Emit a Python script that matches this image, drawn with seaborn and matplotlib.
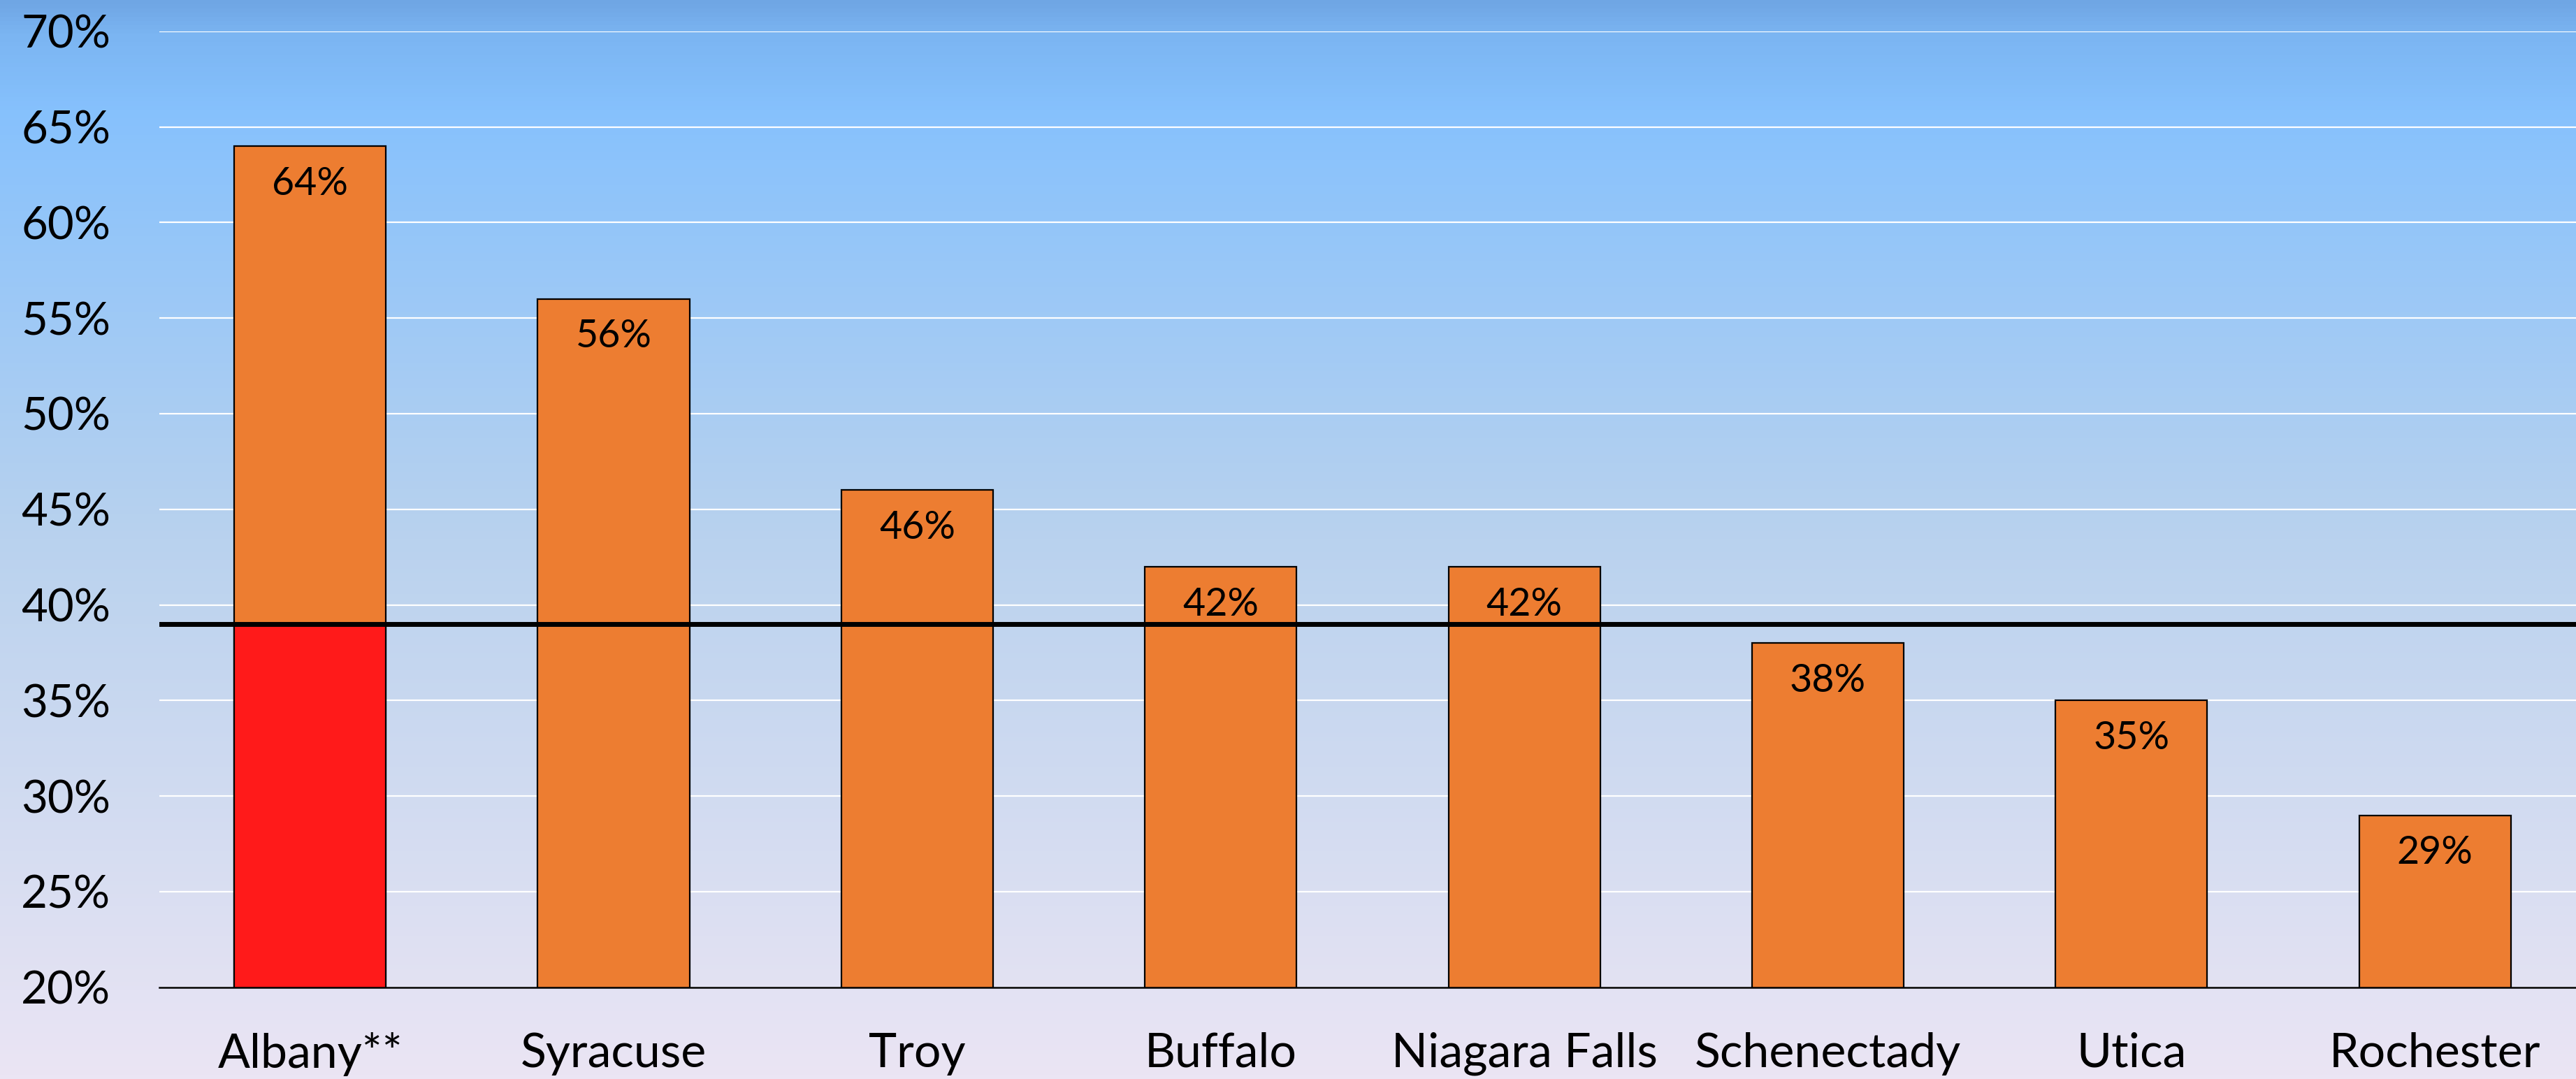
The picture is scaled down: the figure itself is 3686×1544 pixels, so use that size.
import numpy as np
import pandas as pd
import matplotlib
matplotlib.use("Agg")
import matplotlib.pyplot as plt
from matplotlib.colors import LinearSegmentedColormap
import seaborn as sns

cities = ["Albany**", "Syracuse", "Troy", "Buffalo", "Niagara Falls", "Schenectady", "Utica", "Rochester"]
values = [64, 56, 46, 42, 42, 38, 35, 29]
labels = ["64%", "56%", "46%", "42%", "42%", "38%", "35%", "29%"]
highlight_city = ["Albany**"]
highlight_value = [39]
reference_value = 39
yticks = [20, 25, 30, 35, 40, 45, 50, 55, 60, 65, 70]
ytick_labels = ["20%", "25%", "30%", "35%", "40%", "45%", "50%", "55%", "60%", "65%", "70%"]

sns.set_theme(style="white")
plt.rcParams["font.family"] = ["Lato", "DejaVu Sans"]

fig = plt.figure(figsize=(36.87, 15.44), dpi=100)

# gradient background
bg = fig.add_axes([0, 0, 1, 1], zorder=-10)
cmap = LinearSegmentedColormap.from_list(
    "bg", [(0.0, "#6fa6e4"), (0.03, "#7bb5f2"), (0.1, "#86c1fd"), (0.5, "#b9d2ee"), (1.0, "#ebe5f4")])
grad = np.linspace(0, 1, 512).reshape(-1, 1)
bg.imshow(grad, aspect="auto", cmap=cmap, extent=[0, 1, 0, 1], origin="upper")
bg.set_axis_off()

ax = fig.add_axes([0.0618, 0.085, 0.9382, 0.886])
ax.set_facecolor("none")

df = pd.DataFrame({"city": cities, "value": values})
hdf = pd.DataFrame({"city": highlight_city, "value": highlight_value})

sns.barplot(data=df, x="city", y="value", order=cities, color="#ed7d31", saturation=1,
            edgecolor="black", linewidth=1.6, width=0.5, ax=ax, zorder=3)
sns.barplot(data=hdf, x="city", y="value", order=cities, color="#ff1a1a", saturation=1,
            edgecolor="black", linewidth=1.6, width=0.5, ax=ax, zorder=4)

ax.axhline(reference_value, color="black", lw=5, zorder=6)

for i, (v, lab) in enumerate(zip(values, labels)):
    ax.annotate(lab, xy=(i, v), xytext=(0, -39), textcoords="offset points",
                ha="center", va="center", fontsize=40, color="black", zorder=7)

ax.set_ylim(20, 70)
ax.set_xlim(-0.497, 7.467)
ax.set_yticks(yticks)
ax.set_yticklabels(ytick_labels)
ax.yaxis.grid(True, color="white", lw=1.6, zorder=0)
ax.xaxis.grid(False)
ax.set_axisbelow(True)
for s in ["top", "right", "left"]:
    ax.spines[s].set_visible(False)
ax.spines["bottom"].set_color("black")
ax.spines["bottom"].set_linewidth(1.8)
ax.spines["bottom"].set_zorder(8)
ax.tick_params(axis="y", labelsize=47, pad=50, length=0, colors="black")
ax.tick_params(axis="x", labelsize=49, pad=46, length=0, colors="black")
ax.set_xlabel("")
ax.set_ylabel("")

fig.savefig("out.png", dpi=100)
